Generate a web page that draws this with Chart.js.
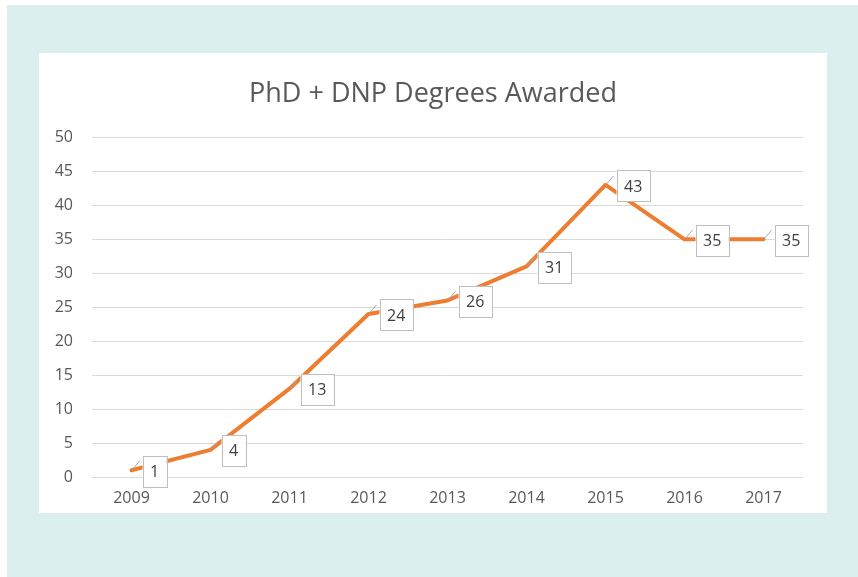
<!DOCTYPE html>
<html>
<head>
<meta charset="utf-8">
<script src="https://cdn.jsdelivr.net/npm/chart.js@4"></script>
<style>
  html, body { margin: 0; padding: 0; background: #fff; }
  #wrap { width: 858px; height: 577px; }
</style>
</head>
<body>
<div id="wrap"><canvas id="chart" width="858" height="577"></canvas></div>
<script>
const years = ["2009", "2010", "2011", "2012", "2013", "2014", "2015", "2016", "2017"];
const degrees = [1, 4, 13, 24, 26, 31, 43, 35, 35];
const yTicks = [0, 5, 10, 15, 20, 25, 30, 35, 40, 45, 50];

const FONT = "'Open Sans', 'Liberation Sans', sans-serif";

// teal page + white chart box behind everything
const background = {
  id: "background",
  beforeDraw(c) {
    const ctx = c.ctx;
    ctx.save();
    ctx.fillStyle = "#ffffff";
    ctx.fillRect(0, 0, c.width, c.height);
    ctx.fillStyle = "#dbefef";
    ctx.fillRect(7, 5, c.width - 7, c.height - 5);
    ctx.fillStyle = "#ffffff";
    ctx.fillRect(39, 53, 788, 460);
    ctx.restore();
  }
};

// boxed value labels with a short leader line, like Excel callouts
const boxLabels = {
  id: "boxLabels",
  afterDatasetsDraw(c) {
    const ctx = c.ctx;
    const meta = c.getDatasetMeta(0);
    ctx.save();
    ctx.font = "16px " + FONT;
    ctx.textBaseline = "middle";
    ctx.textAlign = "center";
    meta.data.forEach((pt, i) => {
      const txt = String(degrees[i]);
      const w = ctx.measureText(txt).width + 15;
      const h = 31;
      const x = pt.x + 11;
      const y = pt.y - h / 2 + 1;
      ctx.strokeStyle = "#a6a6a6";
      ctx.lineWidth = 1;
      ctx.beginPath();
      ctx.moveTo(pt.x + 1, pt.y - 1);
      ctx.lineTo(pt.x + 8, pt.y - 9);
      ctx.stroke();
      ctx.fillStyle = "#ffffff";
      ctx.fillRect(x, y, w, h);
      ctx.strokeStyle = "#bfbfbf";
      ctx.strokeRect(Math.round(x) + 0.5, Math.round(y) + 0.5, Math.round(w), h);
      ctx.fillStyle = "#404040";
      ctx.fillText(txt, x + w / 2, y + h / 2 + 1);
    });
    ctx.restore();
  }
};

chart = new Chart(document.getElementById("chart").getContext("2d"), {
  type: "line",
  data: {
    labels: years,
    datasets: [{
      data: degrees,
      borderColor: "#ed7d31",
      borderWidth: 4,
      tension: 0,
      pointRadius: 0,
      borderCapStyle: "round",
      borderJoinStyle: "round"
    }]
  },
  options: {
    responsive: false,
    animation: false,
    layout: { padding: { left: 39, right: 31, top: 53, bottom: 64 } },
    plugins: {
      legend: { display: false },
      tooltip: { enabled: false },
      title: {
        display: true,
        text: "PhD + DNP Degrees Awarded",
        color: "#595959",
        font: { family: FONT, size: 27, weight: "normal" },
        padding: { top: 25, bottom: 27 }
      }
    },
    scales: {
      x: {
        offset: true,
        grid: { display: false, drawTicks: false },
        border: { display: false },
        ticks: { color: "#595959", font: { family: FONT, size: 16 }, padding: 12 },
        afterFit(s) { s.height = 36; }
      },
      y: {
        min: 0,
        max: 50,
        afterBuildTicks(s) { s.ticks = yTicks.map(v => ({ value: v })); },
        grid: { color: "#d9d9d9", lineWidth: 1, drawTicks: false },
        border: { display: false },
        ticks: { color: "#595959", font: { family: FONT, size: 16 }, padding: 19 },
        afterFit(s) { s.width = 53; }
      },
      // empty right-hand spacer so the plot ends at the same place as the reference
      yRight: {
        position: "right",
        min: 0,
        max: 50,
        grid: { display: false, drawTicks: false },
        border: { display: false },
        ticks: { display: false },
        afterFit(s) { s.width = 24; }
      }
    }
  },
  plugins: [background, boxLabels]
});
</script>
</body>
</html>
